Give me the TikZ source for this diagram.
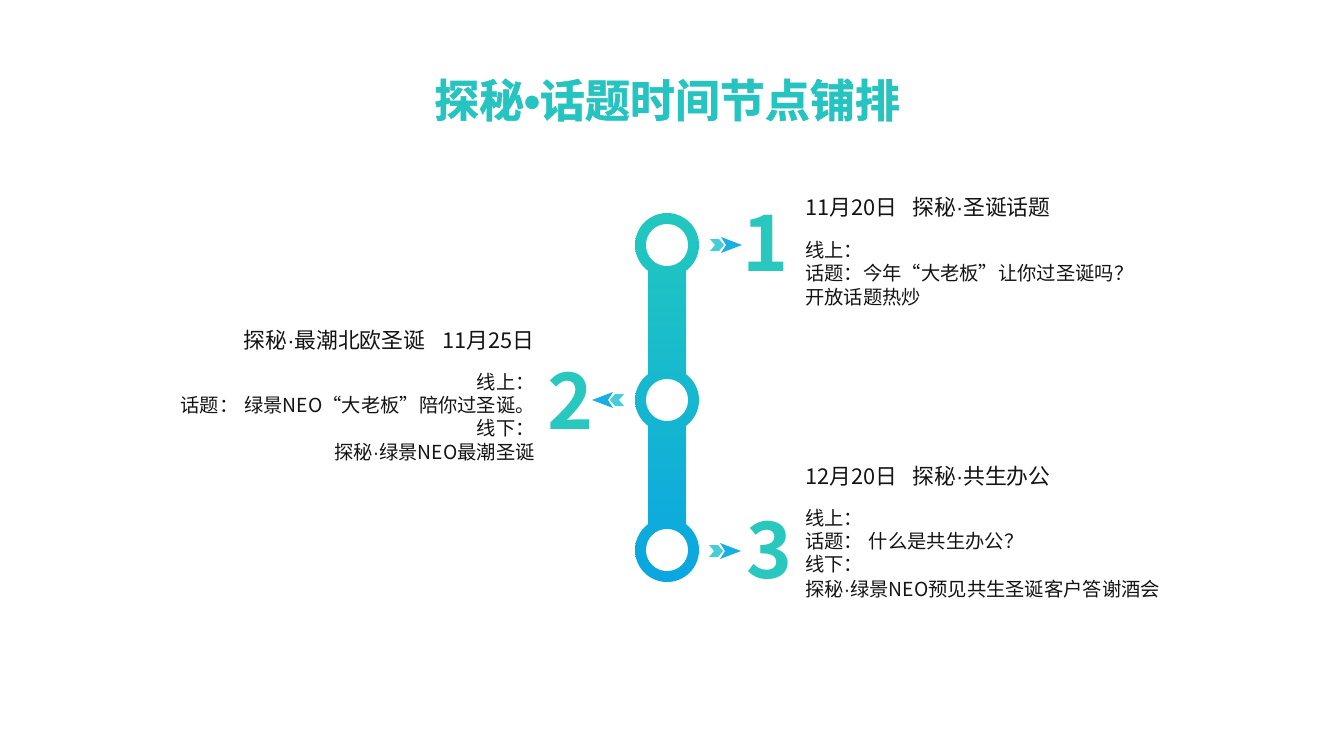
\documentclass[tikz,border=0pt]{standalone}
\usepackage{fontspec}
\setmainfont{Noto Sans CJK SC}
\newfontfamily\cjkbold{Noto Sans CJK SC Bold}
\newfontfamily\cjkheavy{Noto Sans CJK SC Bold}[FakeBold=1.2]
\newfontfamily\latinf{Liberation Sans}
\newfontfamily\latinheavy{Liberation Sans Bold}[FakeBold=1.2]
\newcommand\mydot{{\latinf ·}}
\newcommand\mybullet{{\latinheavy •}}
\definecolor{ttl}{RGB}{38,196,192}
\definecolor{topc}{RGB}{34,200,190}
\definecolor{botc}{RGB}{10,166,226}
\definecolor{numc}{RGB}{40,200,190}
\definecolor{txt}{RGB}{20,20,20}
\definecolor{arrl}{RGB}{70,205,215}
\definecolor{arrr}{RGB}{25,175,225}
\pgfdeclareradialshading{hole}{\pgfpoint{0bp}{0bp}}{color(0bp)=(white); color(36bp)=(white); color(45bp)=(black!10); color(50bp)=(black!28)}
\begin{document}
\begin{tikzpicture}[x=1pt,y=-1pt,
  title/.style={font=\cjkheavy\fontsize{45}{50}\selectfont, text=ttl, inner sep=0pt},
  head/.style={font=\fontsize{21.8}{26}\selectfont, text=txt, inner sep=0pt},
  body/.style={font=\fontsize{19.3}{23}\selectfont, text=txt, inner sep=0pt},
  num/.style={font=\cjkbold\fontsize{78}{78}\selectfont, text=numc, inner sep=0pt},
  barshade/.style={top color=topc, bottom color=botc},
  arrowpic/.pic={
    \fill[arrl] (-16,-6) -- (-7,-6) -- (-2,0) -- (-7,6) -- (-16,6) -- (-11,0) -- cycle;
    \fill[arrr] (-5,-8) -- (16,0) -- (-5,8) -- (0,0) -- cycle;
  }]
\useasboundingbox (0,0) rectangle (1333,750);
\fill[white] (0,0) rectangle (1333,750);

\node[title] (title) at (667,100) {探秘\mybullet 话题时间节点铺排};

\coordinate (c1) at (667,245);
\coordinate (c2) at (667,400);
\coordinate (c3) at (667,550);

\begin{scope}
  \clip (648,245) rectangle (686,550);
  \shade[barshade] (600,213) rectangle (740,582);
\end{scope}
\foreach \c in {c1,c2,c3}{
  \begin{scope}
    \clip (\c) circle (32pt);
    \shade[barshade] (600,213) rectangle (740,582);
  \end{scope}
  \shade[shading=hole] (\c) circle (21pt);
}

\pic at (726,245) {arrowpic};
\pic[xscale=-1] at (608,400) {arrowpic};
\pic at (725,551) {arrowpic};

\node[num] (n1) at (766,243) {1};
\node[num] (n2) at (571,401) {2};
\node[num] (n3) at (770,550) {3};

\node[head, anchor=west] (h1) at (805,207) {11月20日\hspace{0.7em}探秘\mydot 圣诞话题};
\node[body, anchor=west] (b1a) at (805,250) {线上：};
\node[body, anchor=west] (b1b) at (805,273) {话题：今年“大老板”让你过圣诞吗？};
\node[body, anchor=west] (b1c) at (805,297) {开放话题热炒};

\node[head, anchor=east] (h2) at (535,340) {探秘\mydot 最潮北欧圣诞\hspace{0.8em}11月25日};
\node[body, anchor=east] (b2a) at (535,382) {线上：};
\node[body, anchor=east] (b2b) at (535,405) {话题：\hspace{0.3em}绿景NEO“大老板”陪你过圣诞。};
\node[body, anchor=east] (b2c) at (535,428) {线下：};
\node[body, anchor=east] (b2d) at (535,452) {探秘\mydot 绿景NEO最潮圣诞};

\node[head, anchor=west] (h3) at (805,476) {12月20日\hspace{0.7em}探秘\mydot 共生办公};
\node[body, anchor=west] (b3a) at (805,518) {线上：};
\node[body, anchor=west] (b3b) at (805,541) {话题：\hspace{0.3em}什么是共生办公？};
\node[body, anchor=west] (b3c) at (805,564) {线下：};
\node[body, anchor=west] (b3d) at (805,589) {探秘\mydot 绿景NEO预见共生圣诞客户答谢酒会};
\end{tikzpicture}
\end{document}
